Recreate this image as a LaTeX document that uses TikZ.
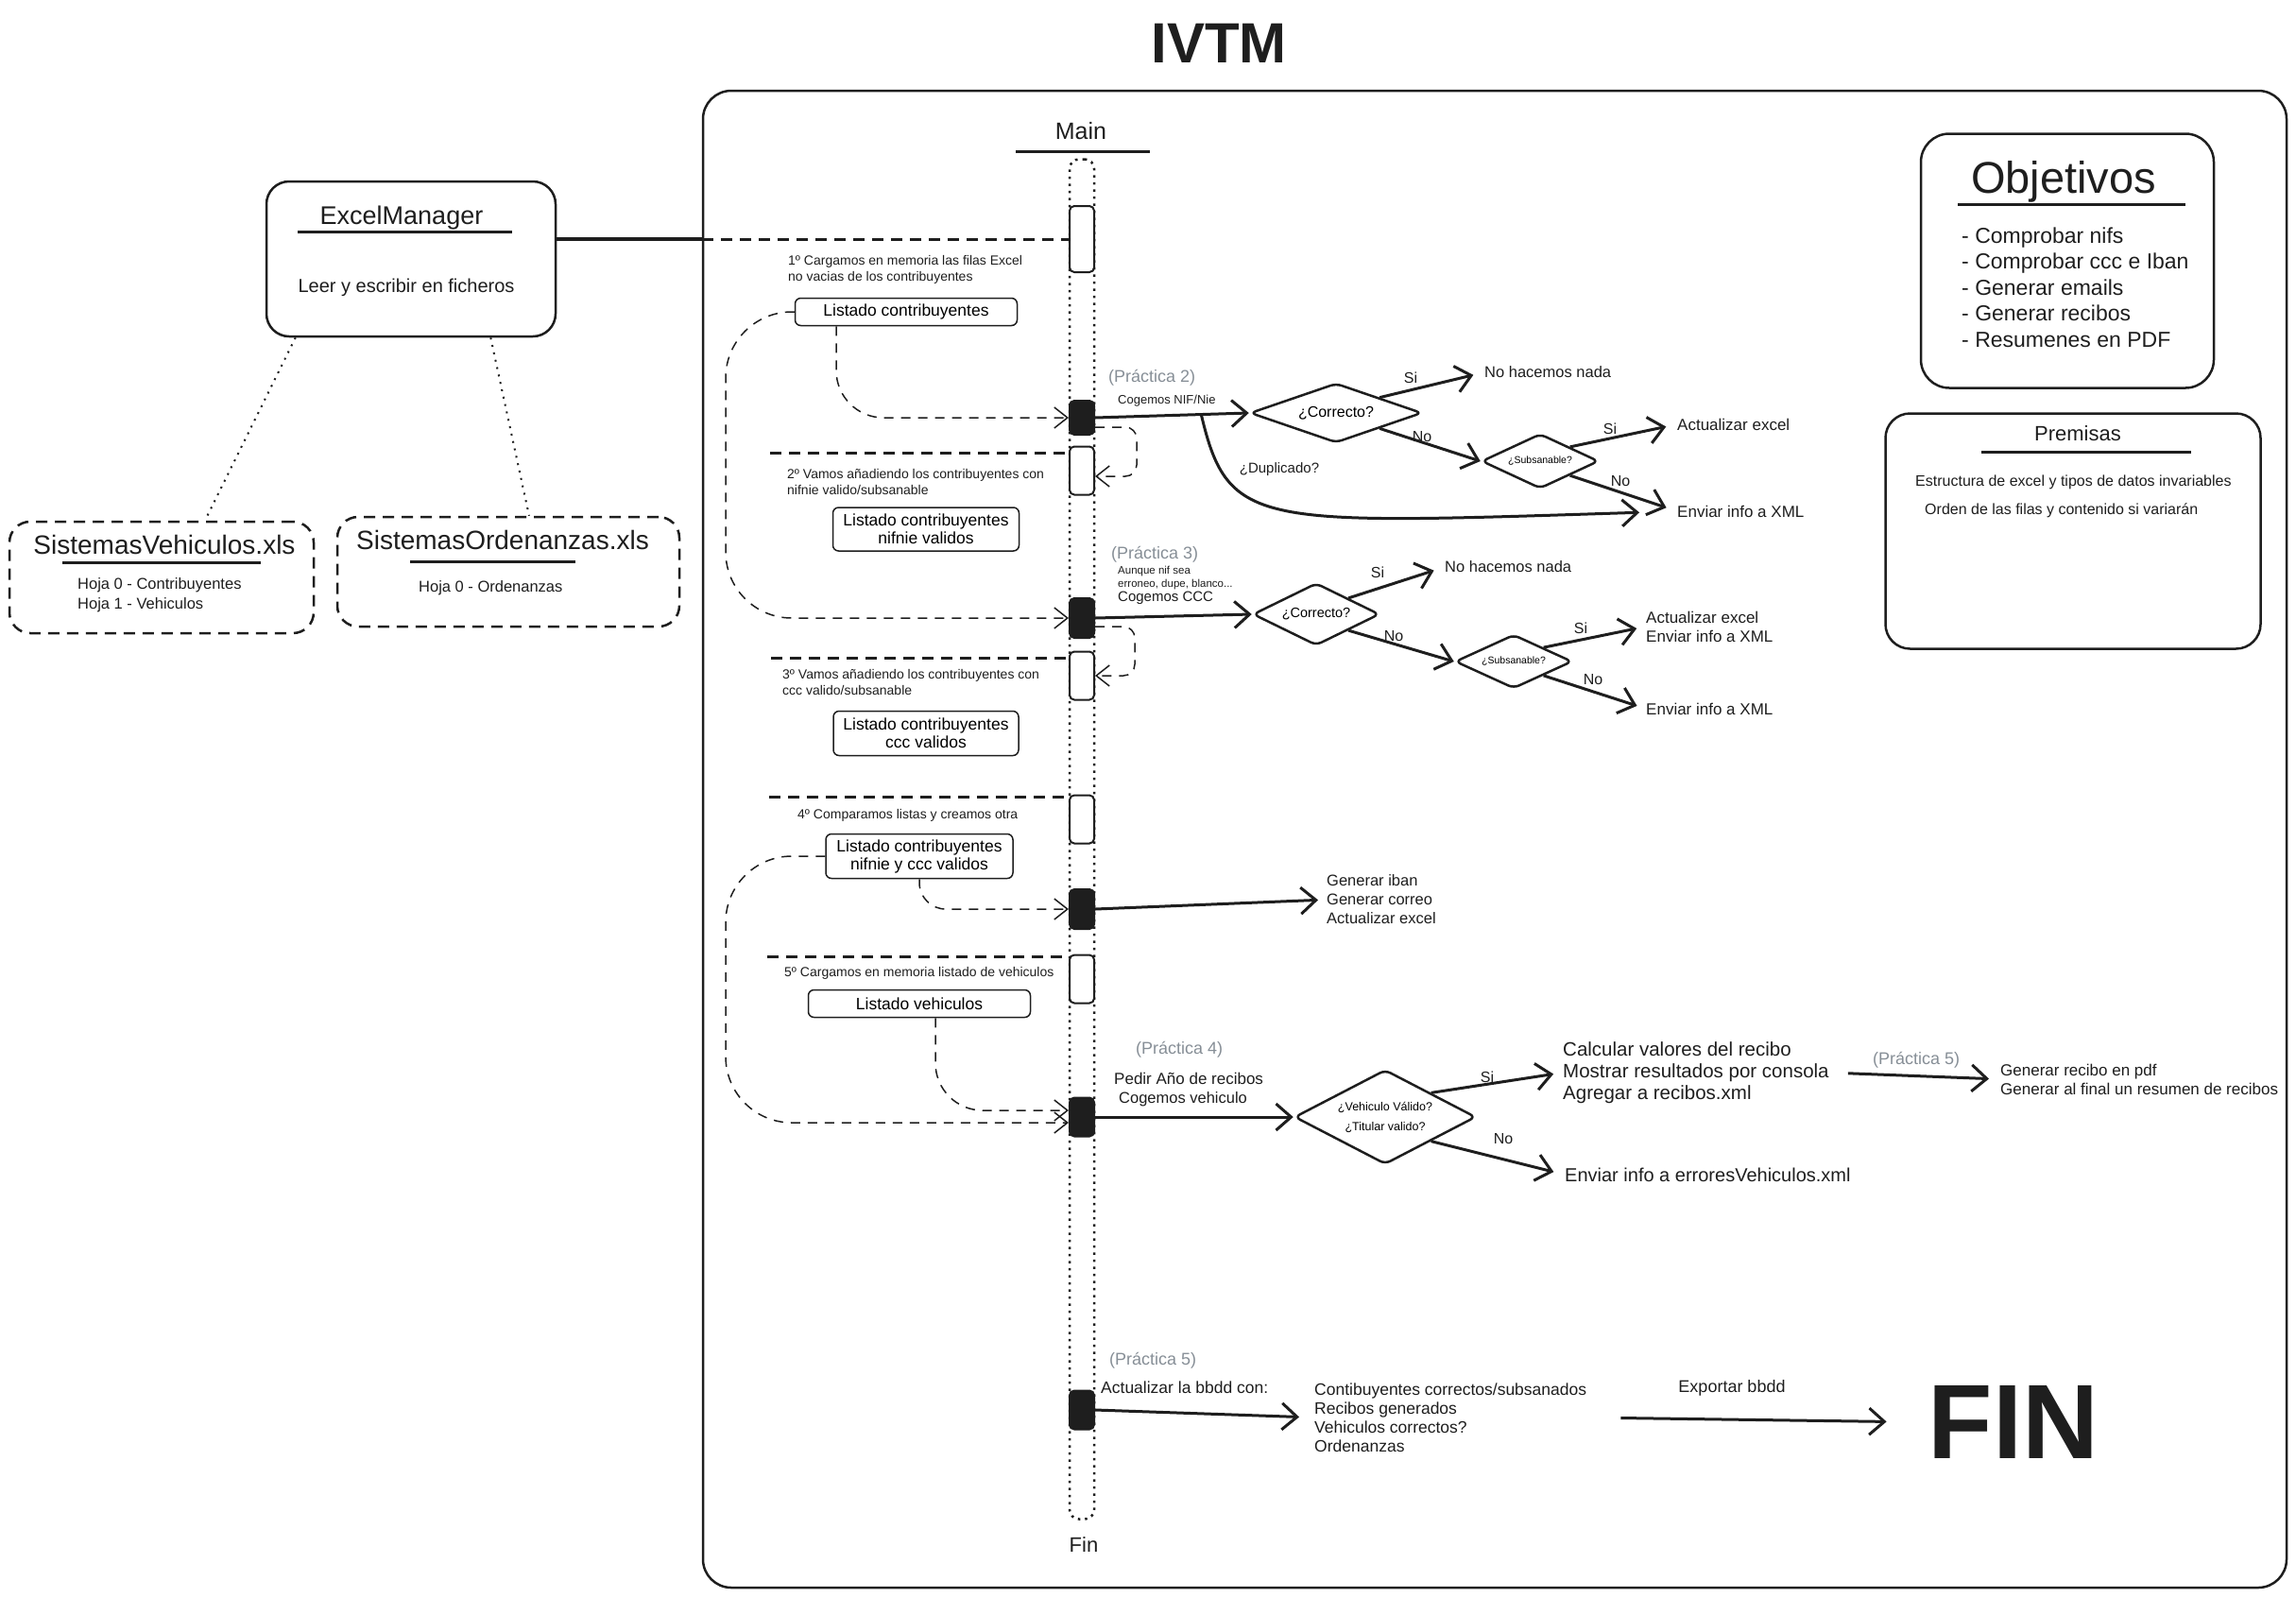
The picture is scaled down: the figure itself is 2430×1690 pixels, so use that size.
\documentclass[tikz,border=0pt]{standalone}
\usepackage{fontspec}
\setmainfont{Liberation Sans}
\usetikzlibrary{shapes.geometric,arrows.meta,positioning}

\definecolor{trazo}{HTML}{1E1E1E}
\definecolor{gris}{HTML}{868E96}
\newcommand{\tam}[2]{\fontsize{#1pt}{#2pt}\selectfont}

\begin{document}
\begin{tikzpicture}[x=1pt, y=-1pt,
    caja/.style={rectangle, draw=trazo, line width=2.5pt, rounded corners=24pt},
    hoja/.style={caja, dash pattern=on 12pt off 8pt, rounded corners=22pt},
    lista/.style={rectangle, draw=trazo, line width=1.5pt, rounded corners=6pt, inner sep=0pt, align=center, font=\tam{17.5}{19}},
    activo/.style={rectangle, draw=trazo, fill=white, line width=2pt, rounded corners=5pt, minimum width=26pt, inner sep=0pt},
    bloque/.style={activo, fill=trazo},
    rombo/.style={diamond, draw=trazo, line width=2.5pt, rounded corners=6pt, inner sep=0pt, align=center},
    txt/.style={inner sep=0pt, align=left, text=trazo},
    practica/.style={txt, anchor=west, text=gris, font=\tam{18}{21}},
    separa/.style={draw=trazo, line width=3pt, dash pattern=on 12pt off 8pt},
    flujo/.style={draw=trazo, line width=1.5pt, dash pattern=on 10pt off 8pt, -{Straight Barb[length=14pt,width=22pt]}},
    flecha/.style={draw=trazo, line width=3pt, -{Straight Barb[length=16pt,width=28pt]}},
    punteado/.style={draw=trazo, line width=2pt, dash pattern=on 2pt off 6pt},
    subrayado/.style={draw=trazo, line width=3pt},
  ]
  \useasboundingbox (0,0) rectangle (2430,1690);
  %\draw[help lines] (0,0) grid[step=100] (2430,1690);

  \node[txt, font=\bfseries\tam{60}{60}] (titulo) at (1290,46) {IVTM};
  \node[caja, minimum width=1676pt, minimum height=1584pt, rounded corners=30pt] (marco) at (1582,888) {};

  % ficheros excel
  \node[caja, minimum width=306pt, minimum height=164pt] (excel) at (435,274) {};
  \node[txt, font=\tam{27}{30}] (excelTit) at (425,231) {ExcelManager};
  \draw[subrayado] (315,245) -- (542,245);
  \node[txt, font=\tam{20}{24}] (excelTxt) at (430,304) {Leer y escribir en ficheros};

  \node[hoja, minimum width=322pt, minimum height=118pt] (vehXls) at (171,611) {};
  \node[txt, font=\tam{28}{30}] (vehTit) at (174,576) {SistemasVehiculos.xls};
  \draw[subrayado] (66,595) -- (276,595);
  \node[txt, anchor=west, font=\tam{16.5}{21}] (vehHojas) at (82,630) {Hoja 0 - Contribuyentes\\Hoja 1 - Vehiculos};

  \node[hoja, minimum width=362pt, minimum height=116pt] (ordXls) at (538,605) {};
  \node[txt, font=\tam{28}{30}] (ordTit) at (532,571) {SistemasOrdenanzas.xls};
  \draw[subrayado] (434,594) -- (609,594);
  \node[txt, anchor=west, font=\tam{16.5}{21}] (ordHojas) at (443,622) {Hoja 0 - Ordenanzas};

  \draw[punteado] ([xshift=32pt]excel.south west) -- ([xshift=46pt]vehXls.north);
  \draw[punteado] ([xshift=-70pt]excel.south east) -- ([xshift=22pt]ordXls.north);

  % linea de vida
  \node[txt, font=\tam{25}{28}] (main) at (1144,139) {Main};
  \draw[subrayado] (1075,160) -- (1217,160);
  \node[rectangle, draw=trazo, line width=2.5pt, dash pattern=on 2.5pt off 5pt, rounded corners=10pt, minimum width=26pt, minimum height=1439pt] (vida) at (1145,888) {};
  \node[txt, font=\tam{22}{24}] (finVida) at (1147,1635) {Fin};

  \node[activo, minimum height=70pt] (act1) at (1145,253) {};
  \node[bloque, minimum height=36pt] (blk1) at (1145,442) {};
  \node[activo, minimum height=51pt] (act2) at (1145,498) {};
  \node[bloque, minimum height=42pt] (blk2) at (1145,654) {};
  \node[activo, minimum height=51pt] (act3) at (1145,715) {};
  \node[activo, minimum height=51pt] (act4) at (1145,867) {};
  \node[bloque, minimum height=42pt] (blk3) at (1145,962) {};
  \node[activo, minimum height=51pt] (act5) at (1145,1036) {};
  \node[bloque, minimum height=41pt] (blk4) at (1145,1182) {};
  \node[bloque, minimum height=41pt] (blk5) at (1145,1492) {};

  % pasos
  \node[txt, anchor=west, font=\tam{14}{17}] (paso1) at (834,285) {1º Cargamos en memoria las filas Excel\\no vacias de los contribuyentes};
  \node[txt, anchor=west, font=\tam{14}{17}] (paso2) at (833,510) {2º Vamos añadiendo los contribuyentes con\\nifnie valido/subsanable};
  \node[txt, anchor=west, font=\tam{14}{17}] (paso3) at (828,722) {3º Vamos añadiendo los contribuyentes con\\ccc valido/subsanable};
  \node[txt, anchor=west, font=\tam{14}{17}] (paso4) at (844,863) {4º Comparamos listas y creamos otra};
  \node[txt, anchor=west, font=\tam{14}{17}] (paso5) at (830,1030) {5º Cargamos en memoria listado de vehiculos};

  \node[lista, minimum width=235pt, minimum height=29pt] (lista1) at (959,330) {Listado contribuyentes};
  \node[lista, minimum width=197pt, minimum height=46pt] (lista2) at (980,560) {Listado contribuyentes\\nifnie validos};
  \node[lista, minimum width=196pt, minimum height=47pt] (lista3) at (980,776) {Listado contribuyentes\\ccc validos};
  \node[lista, minimum width=198pt, minimum height=47pt] (lista4) at (973,906) {Listado contribuyentes\\nifnie y ccc validos};
  \node[lista, minimum width=235pt, minimum height=29pt] (lista5) at (973,1062) {Listado vehiculos};

  \coordinate (sep2) at (815,479);
  \coordinate (sep3) at (816,696);
  \coordinate (sep4) at (814,843);
  \coordinate (sep5) at (812,1012);
  \coordinate (bucleIzq) at (768,0);
  \coordinate (entra4a) at ([yshift=7pt]blk4.west);
  \coordinate (entra4b) at ([yshift=-6pt]blk4.west);

  \draw[line width=3.5pt, draw=trazo] (excel.east |- act1.west) -- (act1.west -| marco.west);
  \draw[separa] (act1.west -| marco.west) -- (act1.west);
  \draw[separa] (sep2) -- (sep2 -| act2.west);
  \draw[separa] (sep3) -- (sep3 -| act3.west);
  \draw[separa] (sep4) -- (sep4 -| act4.west);
  \draw[separa] (sep5) -- (sep5 -| act5.west);

  \draw[flujo, rounded corners=50pt] ([xshift=-74pt]lista1.south) |- (blk1.west);
  \draw[flujo, rounded corners=70pt] (lista1.west) -| (bucleIzq |- blk2.west) -- (blk2.west);
  \draw[flujo, rounded corners=12pt] ([yshift=-10pt]blk1.east) -- ++(44,0) |- ([yshift=-6pt]act2.east);
  \draw[flujo, rounded corners=12pt] ([yshift=-9pt]blk2.east) -- ++(42,0) |- (act3.east);
  \draw[flujo, rounded corners=28pt] (lista4.south) |- (blk3.west);
  \draw[flujo, rounded corners=70pt] (lista4.west) -| (bucleIzq |- entra4b) -- (entra4b);
  \draw[flujo, rounded corners=50pt] ([xshift=17pt]lista5.south) |- (entra4a);

  % practica 2
  \node[practica] (prac2) at (1173,400) {(Práctica 2)};
  \node[txt, anchor=west, font=\tam{13}{15}] (cogeNif) at (1183,424) {Cogemos NIF/Nie};
  \node[rombo, aspect=2.9, minimum width=182pt, minimum height=63pt, font=\tam{16}{18}] (dia1) at (1414,437) {¿Correcto?};
  \node[rombo, aspect=2.1, minimum width=124pt, minimum height=58pt, font=\tam{10.5}{12}] (dia2) at (1630,488) {¿Subsanable?};
  \node[txt, anchor=west, font=\tam{16.5}{19}] (nada1) at (1571,394) {No hacemos nada};
  \node[txt, anchor=west, font=\tam{17}{20}] (excel1) at (1775,449) {Actualizar excel};
  \node[txt, anchor=west, font=\tam{17}{20}] (xml1) at (1775,541) {Enviar info a XML};
  \node[txt, font=\tam{16}{18}] (si1) at (1493,400) {Si};
  \node[txt, font=\tam{16}{18}] (no1) at (1505,462) {No};
  \node[txt, font=\tam{16}{18}] (si2) at (1704,454) {Si};
  \node[txt, font=\tam{16}{18}] (no2) at (1715,509) {No};
  \node[txt, font=\tam{15}{18}] (dup) at (1354,497) {¿Duplicado?};

  \draw[flecha] (blk1.east) -- coordinate[pos=0.69] (ramaDup) (dia1.west);
  \draw[flecha, shorten >=12pt] (dia1.north east) -- (nada1.west);
  \draw[flecha] (dia1.south east) -- (dia2.west);
  \draw[flecha, shorten >=12pt] (dia2.north east) -- (excel1.west);
  \draw[flecha, shorten >=12pt] (dia2.south east) -- (xml1.west);
  \draw[flecha, shorten >=40pt] (ramaDup) .. controls (1300,560) and (1330,555) .. (xml1.west);

  % practica 3
  \node[practica] (prac3) at (1176,587) {(Práctica 3)};
  \node[txt, anchor=west, font=\tam{11.5}{14}] (nota3) at (1183,612) {Aunque nif sea\\erroneo, dupe, blanco...};
  \node[txt, anchor=west, font=\tam{15}{17}] (cogeCcc) at (1183,633) {Cogemos CCC};
  \node[rombo, aspect=2, minimum width=134pt, minimum height=66pt, font=\tam{14.5}{17}] (dia3) at (1393,650) {¿Correcto?};
  \node[rombo, aspect=2.2, minimum width=124pt, minimum height=57pt, font=\tam{10.5}{12}] (dia4) at (1602,700) {¿Subsanable?};
  \node[txt, anchor=west, font=\tam{16.5}{19}] (nada2) at (1529,600) {No hacemos nada};
  \node[txt, anchor=west, font=\tam{17}{20}] (excel2) at (1742,663) {Actualizar excel\\Enviar info a XML};
  \node[txt, anchor=west, font=\tam{17}{20}] (xml2) at (1742,750) {Enviar info a XML};
  \node[txt, font=\tam{16}{18}] (si3) at (1458,606) {Si};
  \node[txt, font=\tam{16}{18}] (no3) at (1475,673) {No};
  \node[txt, font=\tam{16}{18}] (si4) at (1673,665) {Si};
  \node[txt, font=\tam{16}{18}] (no4) at (1686,719) {No};

  \draw[flecha] (blk2.east) -- (dia3.west);
  \draw[flecha, shorten >=12pt] (dia3.north east) -- (nada2.west);
  \draw[flecha] (dia3.south east) -- (dia4.west);
  \draw[flecha, shorten >=10pt] (dia4.north east) -- (excel2.west);
  \draw[flecha, shorten >=10pt] (dia4.south east) -- (xml2.west);

  % generar
  \node[txt, anchor=west, font=\tam{16.5}{20}] (generar) at (1404,952) {Generar iban\\Generar correo\\Actualizar excel};
  \draw[flecha, shorten >=9pt] (blk3.east) -- (generar.west);

  % practica 4
  \node[practica] (prac4) at (1202,1111) {(Práctica 4)};
  \node[txt, anchor=west, font=\tam{17}{20}] (pedir) at (1179,1141) {Pedir Año de recibos};
  \node[txt, anchor=west, font=\tam{16.5}{20}] (cogeVeh) at (1184,1163) {Cogemos vehiculo};
  \node[rombo, aspect=1.9, minimum width=192pt, minimum height=100pt, font=\tam{12.5}{21}] (dia5) at (1466,1182) {¿Vehiculo Válido?\\¿Titular valido?};
  \node[txt, anchor=west, font=\tam{20.5}{23}] (calc) at (1654,1135) {Calcular valores del recibo\\Mostrar resultados por consola\\Agregar a recibos.xml};
  \node[txt, anchor=west, font=\tam{20}{22}] (errores) at (1656,1243) {Enviar info a erroresVehiculos.xml};
  \node[txt, font=\tam{16}{18}] (si5) at (1574,1140) {Si};
  \node[txt, font=\tam{16}{18}] (no5) at (1591,1205) {No};
  \node[practica, anchor=center] (prac5a) at (2028,1122) {(Práctica 5)};
  \node[txt, anchor=west, font=\tam{17}{20}] (pdf) at (2117,1142) {Generar recibo en pdf\\Generar al final un resumen de recibos};

  \draw[flecha] (blk4.east) -- (dia5.west);
  \draw[flecha, shorten >=10pt] (dia5.north east) -- (calc.west);
  \draw[flecha, shorten >=12pt] (dia5.south east) -- (errores.west);
  \draw[flecha, shorten <=20pt, shorten >=12pt] (calc.east) -- (pdf.west);

  % practica 5
  \node[practica] (prac5b) at (1174,1440) {(Práctica 5)};
  \node[txt, anchor=west, font=\tam{17.5}{20}] (actBbdd) at (1165,1468) {Actualizar la bbdd con:};
  \node[txt, anchor=west, font=\tam{17.5}{20}] (bbdd) at (1391,1500) {Contibuyentes correctos/subsanados\\Recibos generados\\Vehiculos correctos?\\Ordenanzas};
  \node[txt, font=\tam{18}{20}] (exportar) at (1833,1469) {Exportar bbdd};
  \node[txt, font=\bfseries\tam{112}{112}] (fin) at (2131,1505) {FIN};

  \draw[flecha, shorten >=16pt] (blk5.east) -- (bbdd.west);
  \draw[flecha, shorten <=36pt, shorten >=44pt] (bbdd.east) -- (fin.west);

  % objetivos y premisas
  \node[caja, minimum width=310pt, minimum height=269pt, rounded corners=30pt] (objetivos) at (2188,276) {};
  \node[txt, font=\tam{47}{50}] (objTit) at (2184,192) {Objetivos};
  \draw[subrayado] (2072,216) -- (2313,216);
  \node[txt, anchor=west, font=\tam{23}{27.5}] (objLista) at (2076,304) {- Comprobar nifs\\- Comprobar ccc e Iban\\- Generar emails\\- Generar recibos\\- Resumenes en PDF};

  \node[caja, minimum width=397pt, minimum height=249pt, rounded corners=26pt] (premisas) at (2194,562) {};
  \node[txt, font=\tam{22}{24}] (premTit) at (2199,459) {Premisas};
  \draw[subrayado] (2097,478) -- (2319,478);
  \node[txt, anchor=west, font=\tam{16}{18}] (prem1) at (2027,510) {Estructura de excel y tipos de datos invariables};
  \node[txt, anchor=west, font=\tam{16}{18}] (prem2) at (2037,540) {Orden de las filas y contenido si variarán};

\end{tikzpicture}
\end{document}
